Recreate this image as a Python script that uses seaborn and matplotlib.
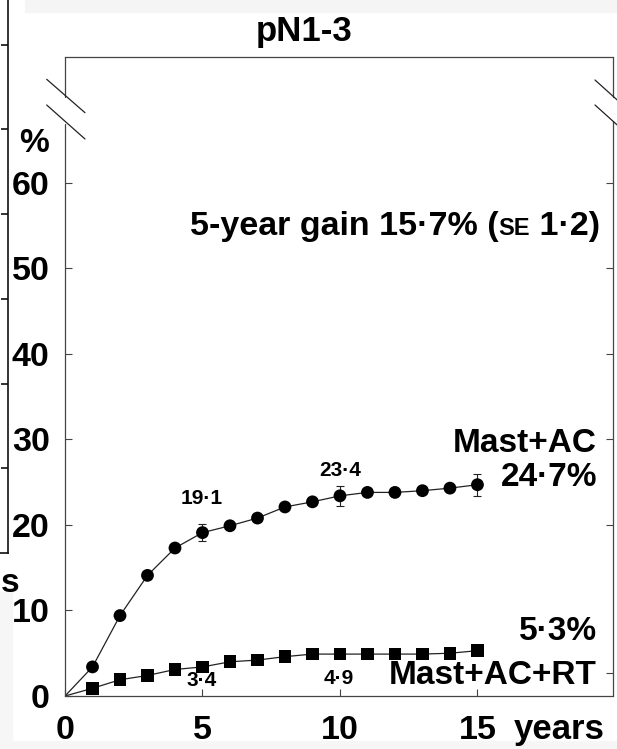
import matplotlib
matplotlib.use("Agg")
import matplotlib.pyplot as plt
import seaborn as sns
import pandas as pd
from matplotlib.lines import Line2D
from matplotlib.patches import Rectangle

# ---------------- data ----------------
years = list(range(0, 16))
mast_ac = [0, 3.4, 9.4, 14.1, 17.3, 19.1, 19.9, 20.8, 22.1, 22.7, 23.4, 23.8, 23.8, 24.0, 24.3, 24.7]
mast_ac_rt = [0, 0.9, 1.9, 2.4, 3.1, 3.4, 4.0, 4.2, 4.6, 4.9, 4.9, 4.9, 4.9, 4.9, 5.0, 5.3]
se_years = [5, 10, 15]
mast_ac_se = [1.0, 1.2, 1.3]
mast_ac_rt_se = [0.4, 0.5, 0.5]
series_names = ["Mast+AC", "Mast+AC+RT"]
x_ticks = [0, 5, 10, 15]
y_ticks = [0, 10, 20, 30, 40, 50, 60]
title = "pN1-3"

# ---------------- style ----------------
sns.set_theme(style="white", rc={"text.color": "black", "axes.labelcolor": "black",
                                 "xtick.color": "black", "ytick.color": "black"})
plt.rcParams["font.family"] = ["Liberation Sans", "DejaVu Sans"]
plt.rcParams["font.weight"] = "bold"

W, H = 617, 749
fig = plt.figure(figsize=(W / 100, H / 100), dpi=100)
fig.patch.set_facecolor("white")

def fx(px):
    return px / W

def fy(py):
    return 1 - py / H

TICK_FS = 24.5
LAB_FS = 24

# faint background strips (scan artefacts)
fig.patches.append(Rectangle((fx(25), fy(12)), 1 - fx(25), 12 / H, transform=fig.transFigure,
                             color="#f5f5f5", zorder=0))
fig.patches.append(Rectangle((0, 0), 1, 8 / H, transform=fig.transFigure, color="#f6f6f6", zorder=0))
fig.patches.append(Rectangle((0, 0), 12 / W, fy(592), transform=fig.transFigure, color="#f6f6f6", zorder=0))

# ---------------- fragment of the neighbouring panel ----------------
ax0 = fig.add_axes([fx(-300), fy(553), fx(308), (553 + 40) / H])
ax0.set_facecolor("none")
ax0.set_ylim(0, (553 + 40) / 8.55)
ax0.set_xlim(0, 1)
for s in ["top", "left"]:
    ax0.spines[s].set_visible(False)
for s in ["right", "bottom"]:
    ax0.spines[s].set_color("#111111")
    ax0.spines[s].set_linewidth(1.2)
ax0.yaxis.tick_right()
ax0.set_yticks([10, 20, 30, 40, 50, 60, 70])
ax0.tick_params(axis="y", direction="in", length=5, width=1.2, color="#111111", labelright=False)
ax0.set_xticks([])
ax0.set_yticklabels([])
fig.text(fx(0.5), fy(592), "s", ha="left", va="baseline", fontsize=LAB_FS, fontweight="bold")

# ---------------- main axes ----------------
ax = fig.add_axes([fx(65), fy(696), (613 - 65) / W, (696 - 57) / H])
ax.set_facecolor("none")

df = pd.DataFrame({
    "year": years * 2,
    "risk": mast_ac + mast_ac_rt,
    "group": [series_names[0]] * len(years) + [series_names[1]] * len(years),
})
sns.lineplot(data=df, x="year", y="risk", hue="group", palette=["#222222", "#222222"],
             linewidth=0.9, legend=False, ax=ax, estimator=None, zorder=2)
pts = df[df["year"] > 0]
sns.scatterplot(data=pts, x="year", y="risk", style="group",
                markers={series_names[0]: "o", series_names[1]: "s"},
                hue="group", palette=["black", "black"], s=85, edgecolor="black",
                linewidth=0, legend=False, ax=ax, zorder=3)

ac_at = [mast_ac[y] for y in se_years]
rt_at = [mast_ac_rt[y] for y in se_years]
ax.errorbar(se_years, ac_at, yerr=mast_ac_se, fmt="none", ecolor="#222222",
            elinewidth=0.8, capsize=3, capthick=0.8, zorder=2)
ax.errorbar(se_years, rt_at, yerr=mast_ac_rt_se, fmt="none", ecolor="#222222",
            elinewidth=0.8, capsize=3, capthick=0.8, zorder=2)

ax.set_xlim(0, 19.93)
ax.set_ylim(0, 74.7)
ax.set_xticks(x_ticks)
ax.set_yticks(y_ticks)
ax.set_xticklabels([str(v) for v in x_ticks])
ax.set_yticklabels([str(v) for v in y_ticks])
ax.set_xlabel("")
ax.set_ylabel("")
ax.tick_params(axis="both", direction="in", length=5, width=0.8, color="#444444",
               labelsize=TICK_FS, labelcolor="black", bottom=True, left=True)
ax.tick_params(axis="y", pad=11)
ax.tick_params(axis="x", pad=14)
for lab in ax.get_xticklabels() + ax.get_yticklabels():
    lab.set_fontweight("bold")

# right-side ticks
axr = ax.twinx()
axr.set_ylim(ax.get_ylim())
axr.set_yticks([2.7, 20, 30, 40, 50, 60])
axr.tick_params(axis="y", direction="in", length=5, width=0.8, color="#444444", labelright=False)
axr.grid(False)
for s in axr.spines.values():
    s.set_visible(False)

# spines with breaks
for s in ["left", "right"]:
    ax.spines[s].set_visible(False)
for s in ["top", "bottom"]:
    ax.spines[s].set_color("#444444")
    ax.spines[s].set_linewidth(0.9)
lo = 1 - (124 - 57) / (696 - 57)
hi = 1 - (97 - 57) / (696 - 57)
for xa, (l, h) in [(0, (lo, hi)), (1, (lo + 0.004, hi))]:
    ax.add_line(Line2D([xa, xa], [0, l], transform=ax.transAxes, color="#444444", lw=0.9, clip_on=False))
    ax.add_line(Line2D([xa, xa], [h, 1], transform=ax.transAxes, color="#444444", lw=0.9, clip_on=False))

# break marks
for (x1, y1, x2, y2) in [(46.7, 79.3, 85, 112.7), (46.7, 105, 85, 139),
                         (595, 80, 625, 107), (595, 105, 625, 132)]:
    fig.add_artist(Line2D([fx(x1), fx(x2)], [fy(y1), fy(y2)], transform=fig.transFigure,
                          color="#222222", lw=0.9))

# ---------------- texts ----------------
fig.text(fx(304), fy(31), title, ha="center", va="center", fontsize=25, fontweight="bold")
fig.text(fx(34), fy(143), "%", ha="center", va="center", fontsize=LAB_FS, fontweight="bold")
fig.text(fx(514), fy(739), "years", ha="left", va="baseline", fontsize=LAB_FS + 1, fontweight="bold")

fig.text(fx(597), fy(444), series_names[0], ha="right", va="center", fontsize=LAB_FS, fontweight="bold")
fig.text(fx(597), fy(478), "24\u00b77%", ha="right", va="center", fontsize=LAB_FS, fontweight="bold")
fig.text(fx(597), fy(632), "5\u00b73%", ha="right", va="center", fontsize=LAB_FS, fontweight="bold")
fig.text(fx(597), fy(675), series_names[1], ha="right", va="center", fontsize=LAB_FS, fontweight="bold")

fig.text(fx(202), fy(498), "19\u00b71", ha="center", va="center", fontsize=15, fontweight="bold")
fig.text(fx(340), fy(470), "23\u00b74", ha="center", va="center", fontsize=15, fontweight="bold")
fig.text(fx(202), fy(680), "3\u00b74", ha="center", va="center", fontsize=15, fontweight="bold")
fig.text(fx(339), fy(679), "4\u00b79", ha="center", va="center", fontsize=15, fontweight="bold")

# gain annotation with small-caps SE, right-aligned, shared baseline
pieces = [("5-year gain 15\u00b77% (", 24.5), ("SE", 17), (" 1\u00b72)", 24.5)]
renderer = fig.canvas.get_renderer()
widths = []
arts = []
for txt, fs in pieces:
    t = fig.text(0, 0, txt, fontsize=fs, fontweight="bold", ha="left", va="baseline")
    widths.append(t.get_window_extent(renderer).width)
    arts.append(t)
x = 600 - sum(widths)
for t, w in zip(arts, widths):
    t.set_position((fx(x), fy(235)))
    x += w

fig.savefig("out.png", dpi=100)
